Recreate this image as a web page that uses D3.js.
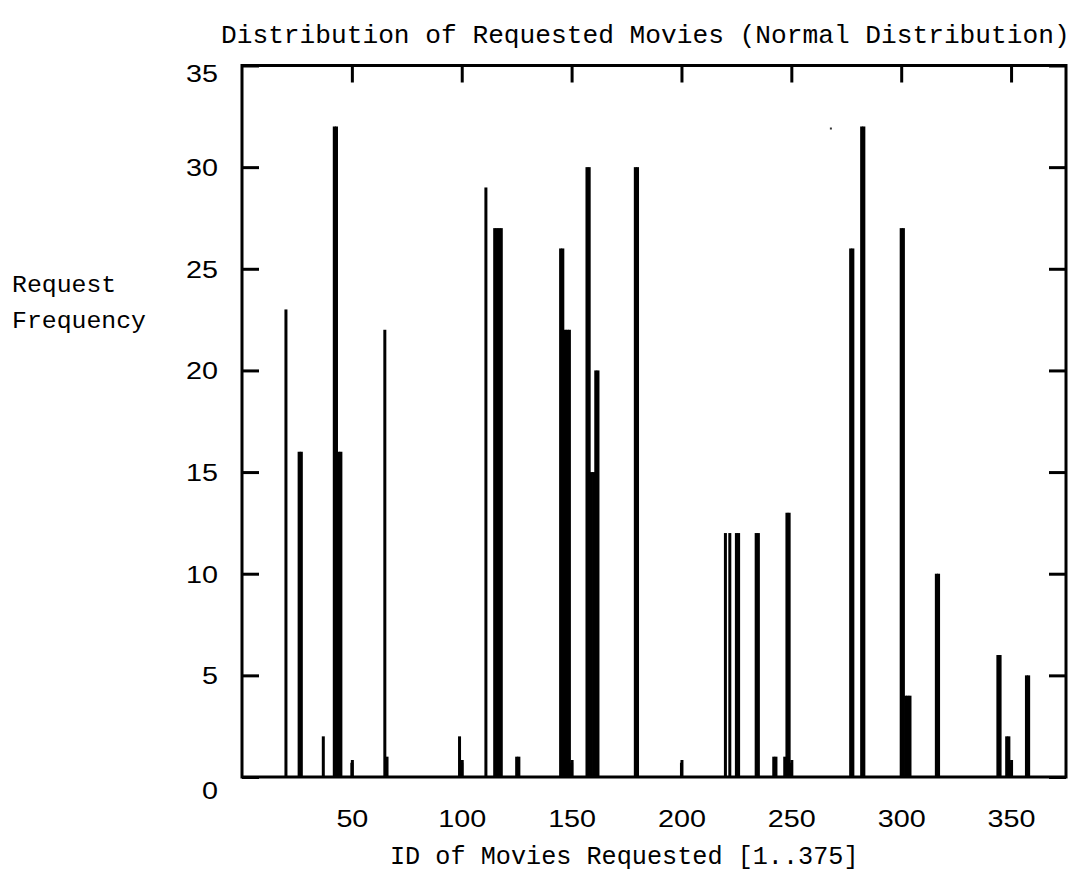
<!DOCTYPE html>
<html>
<head>
<meta charset="utf-8">
<script src="https://cdn.jsdelivr.net/npm/d3@7"></script>
<style>
  html, body { margin: 0; padding: 0; background: #fff; }
  svg { display: block; }
</style>
</head>
<body>
<div id="chart"></div>
<script>
// ---- data ----
const movieIds = [20, 26, 27, 37, 42, 43, 44, 45, 50, 65, 66, 99, 100, 111, 115, 116, 117, 118, 125, 126,
  145, 146, 147, 148, 149, 150, 157, 158, 159, 160, 161, 162, 179, 180, 200, 220, 222, 225, 226, 234, 235,
  242, 243, 247, 248, 249, 250, 277, 278, 282, 283, 300, 301, 302, 303, 304, 316, 317, 344, 345, 348, 349, 350, 357, 358];
const requestFrequency = [23, 16, 16, 2, 32, 32, 16, 16, 0.7, 22, 1, 2, 0.7, 29, 27, 27, 27, 27, 1, 1,
  26, 26, 22, 22, 22, 0.7, 30, 30, 15, 15, 20, 20, 30, 30, 0.7, 12, 12, 12, 12, 12, 12,
  1, 1, 1, 13, 13, 0.7, 26, 26, 32, 32, 27, 27, 4, 4, 4, 10, 10, 6, 6, 2, 2, 0.7, 5, 5];
const strayIds = [268];
const strayValues = [31.9];
const xTickValues = [50, 100, 150, 200, 250, 300, 350];
const yTickValues = [0, 5, 10, 15, 20, 25, 30, 35];
const titleText = "Distribution of Requested Movies (Normal Distribution)";
const xLabelText = "ID of Movies Requested [1..375]";
const yLabelLines = ["Request", "Frequency"];

// ---- layout ----
const W = 1080, H = 877;
const svg = d3.select("#chart").append("svg").attr("width", W).attr("height", H);

const x = d3.scaleLinear().domain([0, 375]).range([242, 1066]);
const y = d3.scaleLinear().domain([0, 35]).range([777, 65.5]);

const tickLen = 17;
const lw = 3;
const labelFont = "'Liberation Sans', Arial, sans-serif";
const monoFont = "'Liberation Mono', 'Courier New', monospace";
const numScale = 1.25;

// impulses
const data = movieIds.map((id, i) => ({ id, v: requestFrequency[i] }));
svg.append("g").selectAll("rect").data(data).join("rect")
  .attr("x", d => x(d.id) - 1.5)
  .attr("width", 3)
  .attr("y", d => y(d.v))
  .attr("height", d => y(0) - y(d.v))
  .attr("fill", "#000");

// stray dot
svg.append("g").selectAll("rect").data(strayIds.map((id, i) => ({ id, v: strayValues[i] }))).join("rect")
  .attr("x", d => x(d.id) - 1).attr("y", d => y(d.v) - 1)
  .attr("width", 2).attr("height", 2).attr("fill", "#333");

// axes (ticks pointing inward on all four sides)
function styleAxis(g) {
  g.select(".domain").remove();
  g.selectAll(".tick line").attr("stroke", "#000").attr("stroke-width", lw);
}
const gBottom = svg.append("g").attr("transform", `translate(0,${y(0)})`)
  .call(d3.axisBottom(x).tickValues(xTickValues).tickSizeInner(-tickLen).tickSizeOuter(0).tickFormat(d3.format("d")))
  .call(styleAxis);
gBottom.selectAll(".tick text")
  .attr("y", 0).attr("dy", 0)
  .attr("transform", `translate(0,50) scale(${numScale},1)`)
  .attr("font-family", labelFont).attr("font-size", 23).attr("fill", "#000");

svg.append("g").attr("transform", `translate(0,${y(35)})`)
  .call(d3.axisTop(x).tickValues(xTickValues).tickSizeInner(-tickLen).tickSizeOuter(0).tickFormat(""))
  .call(styleAxis);

const yLabelShift = v => (v === 35 ? 16 : v === 0 ? 21.5 : 8.5);
const gLeft = svg.append("g").attr("transform", `translate(${x(0)},0)`)
  .call(d3.axisLeft(y).tickValues(yTickValues).tickSizeInner(-tickLen).tickSizeOuter(0).tickFormat(d3.format("d")))
  .call(styleAxis);
gLeft.selectAll(".tick text")
  .attr("x", 0).attr("dy", 0)
  .attr("text-anchor", "end")
  .attr("transform", d => `translate(-24,${yLabelShift(d)}) scale(${numScale},1)`)
  .attr("font-family", labelFont).attr("font-size", 23).attr("fill", "#000");

svg.append("g").attr("transform", `translate(${x(375)},0)`)
  .call(d3.axisRight(y).tickValues(yTickValues).tickSizeInner(-tickLen).tickSizeOuter(0).tickFormat(""))
  .call(styleAxis);

// frame
svg.append("rect")
  .attr("x", x(0)).attr("y", y(35))
  .attr("width", x(375) - x(0)).attr("height", y(0) - y(35))
  .attr("fill", "none").attr("stroke", "#000").attr("stroke-width", lw);

// title
svg.append("text")
  .attr("x", 221).attr("y", 43)
  .attr("font-family", monoFont).attr("font-size", 26.2)
  .attr("fill", "#000").text(titleText);

// x label
svg.append("text")
  .attr("x", 390).attr("y", 864)
  .attr("font-family", monoFont).attr("font-size", 25.2)
  .attr("fill", "#000").text(xLabelText);

// y label
svg.append("g").selectAll("text").data(yLabelLines).join("text")
  .attr("x", 12).attr("y", (d, i) => 291.7 + i * 36.6)
  .attr("font-family", monoFont).attr("font-size", 24.8)
  .attr("fill", "#000").text(d => d);
</script>
</body>
</html>
